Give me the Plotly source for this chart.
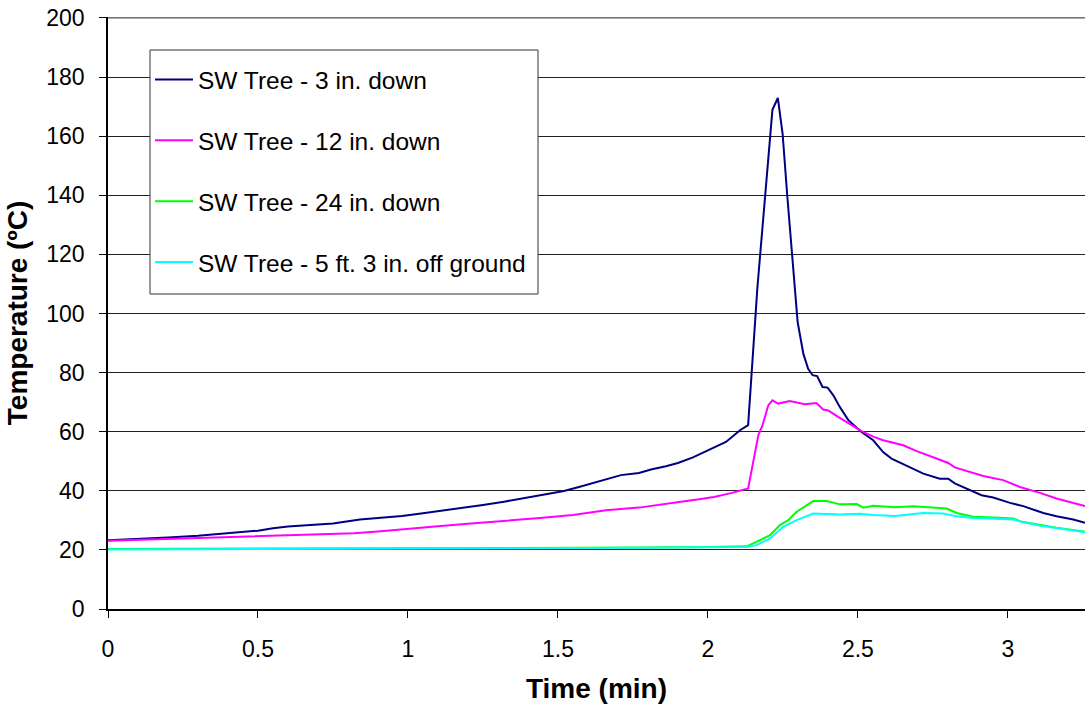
import plotly.graph_objects as go

# ---- data (time in min, temperature in °C) ----
t_3in = [0, 0.1, 0.2, 0.3, 0.4, 0.5, 0.55, 0.6, 0.7, 0.75, 0.84, 0.9, 0.98, 1.05, 1.15, 1.25,
         1.32, 1.4, 1.47, 1.52, 1.57, 1.64, 1.71, 1.77, 1.81, 1.86, 1.9, 1.95, 2.0, 2.06,
         2.107, 2.134, 2.165, 2.215, 2.233, 2.249, 2.264, 2.299, 2.318, 2.334, 2.349, 2.364,
         2.382, 2.399, 2.418, 2.44, 2.468, 2.512, 2.551, 2.584, 2.612, 2.662, 2.718, 2.773,
         2.801, 2.823, 2.862, 2.912, 2.951, 3.007, 3.051, 3.118, 3.162, 3.218, 3.257]
v_3in = [23.3, 23.7, 24.2, 24.8, 25.6, 26.5, 27.3, 27.9, 28.6, 28.9, 30.3, 30.8, 31.5, 32.4,
         33.7, 35.2, 36.3, 37.7, 39.0, 39.9, 41.3, 43.2, 45.3, 46.0, 47.2, 48.3, 49.4, 51.3,
         53.7, 56.5, 60.5, 62.2, 108.9, 168.9, 172.9, 160.7, 140.4, 97.1, 86.4, 81.3, 79.1,
         78.8, 75.1, 74.9, 72.3, 68.3, 63.9, 59.9, 57.1, 53.1, 50.9, 48.6, 45.8, 44.1, 44.1,
         42.5, 40.8, 38.5, 37.7, 35.9, 34.8, 32.5, 31.4, 30.3, 29.2]

t_12in = [0, 0.1, 0.2, 0.31, 0.4, 0.53, 0.6, 0.707, 0.82, 0.9, 0.98, 1.1, 1.21, 1.3, 1.37,
          1.44, 1.55, 1.66, 1.77, 1.85, 1.91, 1.97, 2.02, 2.08, 2.134, 2.168, 2.182, 2.201,
          2.215, 2.234, 2.273, 2.323, 2.362, 2.384, 2.401, 2.434, 2.475, 2.512, 2.551, 2.584,
          2.651, 2.696, 2.762, 2.801, 2.823, 2.862, 2.918, 2.984, 3.04, 3.107, 3.162, 3.257]
v_12in = [23.1, 23.4, 23.7, 24.2, 24.5, 24.9, 25.0, 25.2, 25.6, 26.2, 27.0, 28.0, 28.9, 29.6,
          30.3, 30.8, 31.8, 33.4, 34.3, 35.3, 36.3, 37.1, 37.9, 39.3, 40.8, 58.8, 62.2, 68.9,
          70.6, 69.5, 70.4, 69.3, 69.7, 67.5, 67.2, 65.0, 62.5, 60.2, 58.3, 57.1, 55.4, 53.4,
          50.9, 49.4, 47.9, 46.7, 45.0, 43.6, 41.3, 39.3, 37.4, 34.8]

t_24in = [0, 0.5, 1.0, 1.5, 1.8, 2.0, 2.129, 2.162, 2.207, 2.24, 2.268, 2.296, 2.33, 2.351,
          2.396, 2.418, 2.44, 2.496, 2.518, 2.551, 2.623, 2.684, 2.773, 2.796, 2.829, 2.884,
          2.951, 3.018, 3.046, 3.107, 3.162, 3.257]
v_24in = [20.3, 20.4, 20.4, 20.6, 20.8, 21.0, 21.2, 22.7, 25.0, 28.4, 30.1, 32.9, 35.0, 36.5,
          36.5, 36.0, 35.4, 35.5, 34.3, 34.9, 34.4, 34.8, 34.2, 34.0, 32.5, 31.2, 31.0, 30.6,
          29.5, 28.4, 27.5, 26.1]

t_5ft = [0, 0.5, 1.0, 1.5, 1.8, 2.0, 2.129, 2.162, 2.207, 2.251, 2.296, 2.351, 2.44, 2.507,
         2.551, 2.623, 2.718, 2.784, 2.829, 2.884, 2.94, 3.018, 3.05, 3.107, 3.162, 3.257]
v_5ft = [20.1, 20.2, 20.3, 20.5, 20.7, 20.9, 21.0, 21.6, 23.9, 27.8, 30.1, 32.3, 32.0, 32.2,
         31.8, 31.5, 32.5, 32.3, 31.4, 30.8, 30.6, 30.3, 29.4, 28.2, 27.4, 26.0]

series_names = ["SW Tree - 3 in. down", "SW Tree - 12 in. down",
                "SW Tree - 24 in. down", "SW Tree - 5 ft. 3 in. off ground"]
series_colors = ["#000080", "#FF00FF", "#00FF00", "#00FFFF"]
series_data = [(t_3in, v_3in), (t_12in, v_12in), (t_24in, v_24in), (t_5ft, v_5ft)]

x_ticks = [0, 0.5, 1, 1.5, 2, 2.5, 3]
x_tick_labels = ["0", "0.5", "1", "1.5", "2", "2.5", "3"]
y_ticks = [0, 20, 40, 60, 80, 100, 120, 140, 160, 180, 200]
Y_MAX = 200

FONT = "Liberation Sans, Arial, sans-serif"

fig = go.Figure()
for i, ((tx, vy), name, col) in enumerate(zip(series_data, series_names, series_colors)):
    fig.add_trace(go.Scatter(x=tx, y=vy, mode="lines", name=name,
                             line=dict(color=col, width=2),
                             legendgroup=f"g{i}"))

# legend frame (page px 150..538 x 50..294 -> paper coords of the plot area)
PL, PR, PT, PB = 108, 1085, 17, 609
def px_x(p):
    return (p - PL) / (PR - PL)
def px_y(p):
    return (PB - p) / (PB - PT)

fig.add_shape(type="rect", xref="paper", yref="paper",
              x0=px_x(150), x1=px_x(538), y0=px_y(294), y1=px_y(50),
              line=dict(color="#333333", width=1), fillcolor="white", layer="above")
# top gridline at the axis maximum
fig.add_shape(type="line", xref="paper", yref="y", x0=0, x1=1, y0=Y_MAX, y1=Y_MAX,
              line=dict(color="#222222", width=1), layer="below")

fig.update_layout(
    width=1085, height=704,
    margin=dict(l=108, r=0, t=17, b=95),
    paper_bgcolor="white", plot_bgcolor="white",
    font=dict(family=FONT, size=23, color="black"),
    showlegend=True,
    legend=dict(x=px_x(150), y=px_y(57), xanchor="left", yanchor="top",
                borderwidth=0, bgcolor="rgba(0,0,0,0)",
                font=dict(family=FONT, size=24.5, color="black"),
                tracegroupgap=26, itemwidth=38),
    xaxis=dict(range=[0, 3.257], tickvals=x_ticks, ticktext=x_tick_labels,
               showgrid=False, zeroline=False, automargin=False,
               showline=True, linecolor="black", linewidth=1.5,
               ticks="outside", ticklen=7, tickcolor="black",
               ticklabelstandoff=12,
               tickfont=dict(family=FONT, size=23),
               title=dict(text="<b>Time (min)</b>", font=dict(family=FONT, size=28), standoff=28)),
    yaxis=dict(range=[0, Y_MAX + 0.3], tickvals=y_ticks, automargin=False,
               ticklabeloverflow="allow",
               showgrid=True, gridcolor="#222222", gridwidth=1, zeroline=False,
               showline=True, linecolor="black", linewidth=1.5,
               ticks="outside", ticklen=7, tickcolor="black",
               ticklabelstandoff=10,
               tickfont=dict(family=FONT, size=23),
               title=dict(text="<b>Temperature (ºC)</b>", font=dict(family=FONT, size=28), standoff=10)),
)

fig.write_html("out.html", config={"displayModeBar": False},
               post_script="document.body.style.margin='0';document.body.style.overflow='hidden';")
